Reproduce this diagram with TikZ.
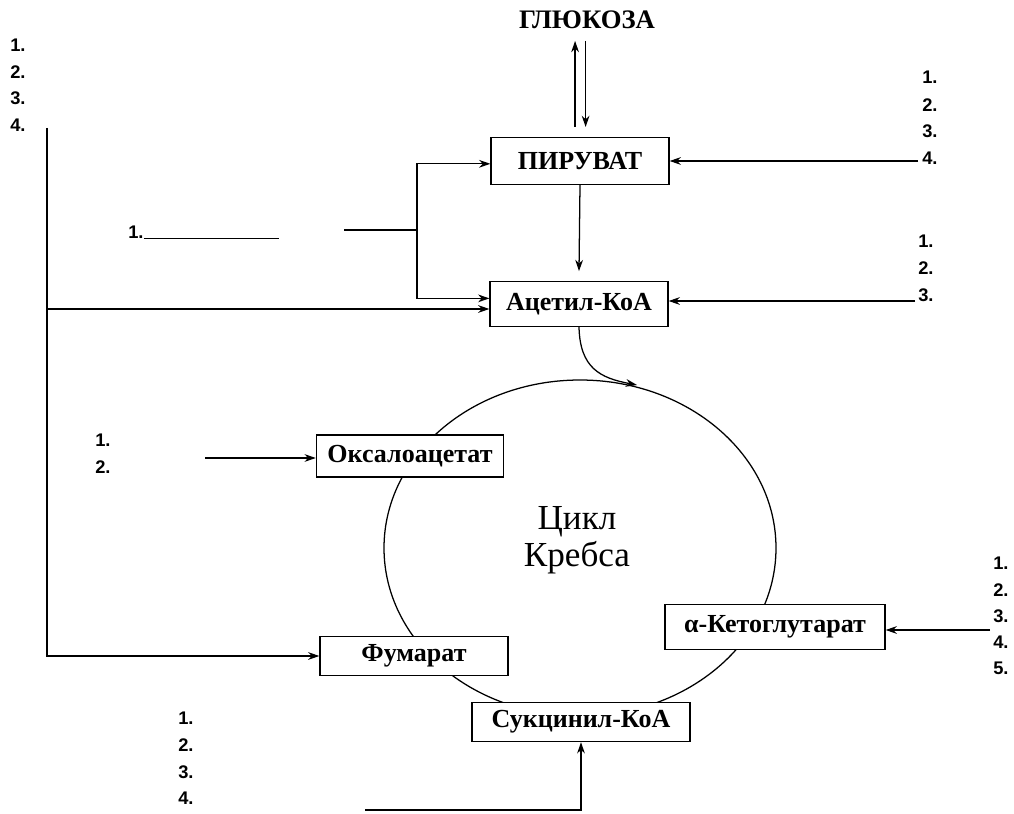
\documentclass[tikz,border=0pt]{standalone}
\usepackage{fontspec}
\setmainfont{Liberation Serif}
\newfontfamily\numfont{Liberation Sans}
\usetikzlibrary{arrows.meta}

\tikzset{
  box/.style={draw, line width=0.9pt, fill=white, inner sep=0pt,
    font=\bfseries\fontsize{18.5}{21}\selectfont},
  num/.style={anchor=west, inner sep=0pt, font=\numfont\bfseries\fontsize{13}{14}\selectfont},
  conn/.style={line width=0.9pt}
}

\begin{document}
\begin{tikzpicture}[x=0.025cm, y=-0.025cm, >={Stealth[length=8pt,width=5.5pt]}]
  \useasboundingbox (0,0) rectangle (1014,814);

  % Krebs cycle behind the boxes
  \draw[conn] (580,548) ellipse [x radius=196, y radius=168];
  \node[font=\fontsize{25}{26}\selectfont, align=center] (cyc) at (577,540) {Цикл\\Кребса};

  % main nodes
  \node[font=\bfseries\fontsize{19}{21}\selectfont] (glc) at (587,20) {ГЛЮКОЗА};
  \node[box, minimum width=4.45cm, minimum height=1.18cm] (pyr) at (580,161) {ПИРУВАТ};
  \node[box, minimum width=4.45cm, minimum height=1.12cm] (acet) at (579,304) {Ацетил-КоА};
  \node[box, minimum width=4.68cm, minimum height=1.05cm] (oxa) at (410,456) {Оксалоацетат};
  \node[box, minimum width=4.70cm, minimum height=0.98cm] (fum) at (414,656) {Фумарат};
  \node[box, minimum width=5.50cm, minimum height=1.12cm] (akg) at (775,627) {α-Кетоглутарат};
  \node[box, minimum width=5.45cm, minimum height=0.98cm] (suc) at (581,722) {Сукцинил-КоА};

  % numbered blanks
  \foreach \i/\y in {1/45,2/72,3/98,4/125}
    \node[num] (tl\i) at (10,\y) {\i.};
  \foreach \i/\y in {1/77,2/105,3/131,4/158}
    \node[num] (tr\i) at (922,\y) {\i.};
  \foreach \i/\y in {1/241,2/268,3/295}
    \node[num] (mr\i) at (918,\y) {\i.};
  \foreach \i/\y in {1/440,2/467}
    \node[num] (ox\i) at (95,\y) {\i.};
  \foreach \i/\y in {1/563,2/590,3/616,4/642,5/668}
    \node[num] (kg\i) at (993,\y) {\i.};
  \foreach \i/\y in {1/718,2/745,3/772,4/798}
    \node[num] (sc\i) at (178,\y) {\i.};
  \node[num] (ml1) at (128,232) {1.};
  \draw[conn] (ml1.south east) -- ++(135,0);

  % free ends of the connectors
  \coordinate (ltop) at (47,128);
  \coordinate (lmid) at (47,309);
  \coordinate (brin) at (344,230);
  \coordinate (brj) at (417,230);
  \coordinate (trin) at (918,161);
  \coordinate (mrin) at (915,301);
  \coordinate (oxin) at (205,458);
  \coordinate (kgin) at (990,630);
  \coordinate (scin) at (365,810);

  % glucose <-> pyruvate
  \draw[conn, ->] ([xshift=-3.5pt,yshift=7pt]pyr.north) -- ([xshift=-3.5pt,yshift=-5pt]pyr.north |- glc.south);
  \draw[conn, ->] ([xshift=4pt,yshift=-5pt]pyr.north |- glc.south) -- ([xshift=4pt,yshift=7pt]pyr.north);
  \draw[conn, ->] (pyr.south) -- ([yshift=7pt]acet.north);

  % inputs
  \draw[conn, ->] (trin) -- (trin -| pyr.east);
  \draw[conn, ->] (mrin) -- (mrin -| acet.east);
  \draw[conn] (brin) -- (brj);
  \draw[conn, ->] (brj) |- ([yshift=-2pt]pyr.west);
  \draw[conn, ->] (brj) |- ([yshift=4pt]acet.west);
  \draw[conn, ->] (ltop) |- (fum.west);
  \draw[conn, ->] (lmid) -- (lmid -| acet.west);
  \draw[conn, ->] (oxin) -- (oxin -| oxa.west);
  \draw[conn, ->] (kgin) -- (kgin -| akg.east);
  \draw[conn, ->] (scin) -| (suc.south);

  % acetyl-CoA enters the cycle
  \draw[conn, ->] (acet.south) .. controls (580,368) and (600,378) .. (637,385);
\end{tikzpicture}
\end{document}
